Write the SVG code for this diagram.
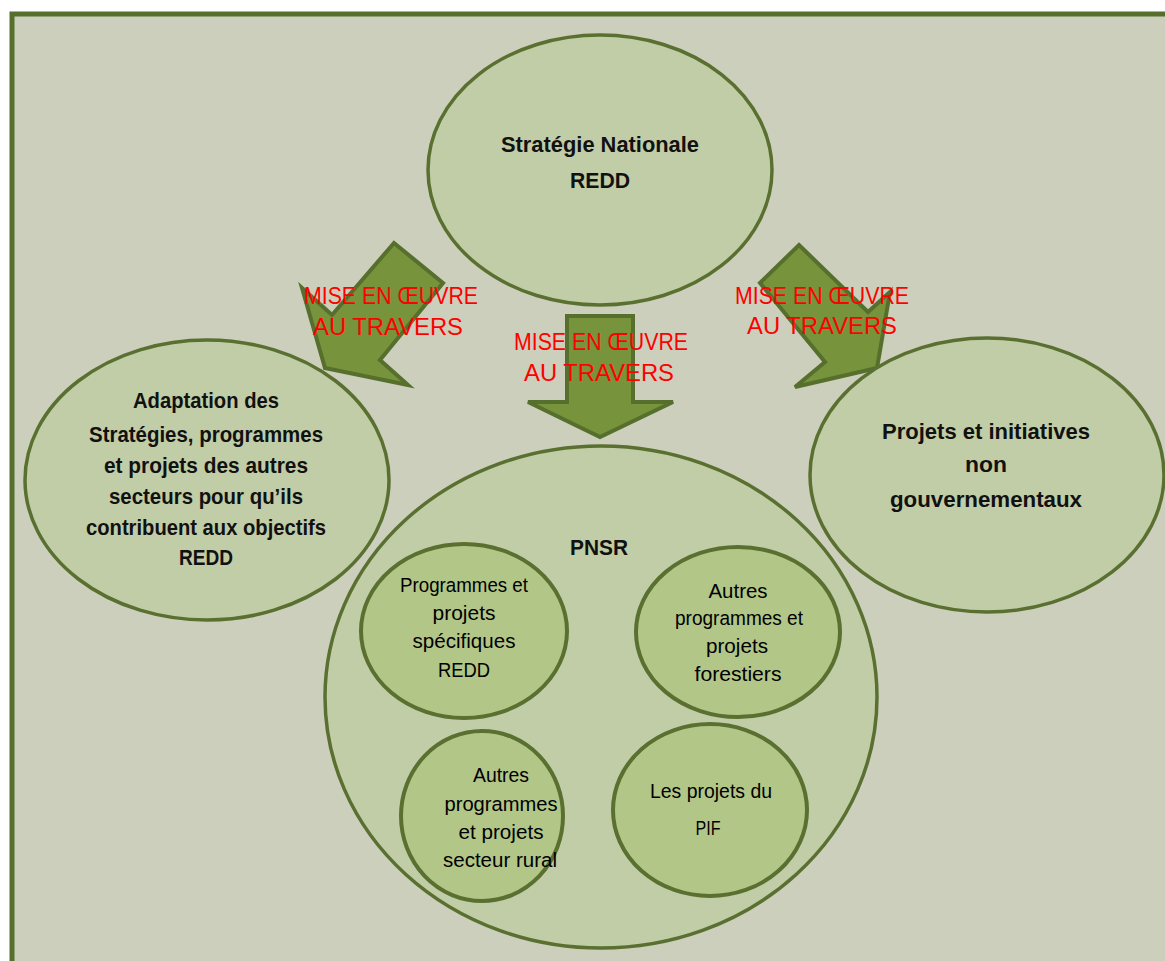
<svg xmlns="http://www.w3.org/2000/svg" width="1165" height="961" viewBox="0 0 1165 961">
<style>
.ell{fill:#C1CDA6;stroke:#5A7030;stroke-width:3.5}
.inn{fill:#B2C688;stroke:#5A7030;stroke-width:4}
.arr{fill:#77933C;stroke:#566F2C;stroke-width:4;stroke-linejoin:miter}
.t{font-family:"Liberation Sans",Arial,sans-serif;font-weight:bold;fill:#111;text-anchor:middle}
.b{font-size:22px}
.s{font-size:20.5px;font-weight:normal;fill:#000}
.r{font-family:"Liberation Sans",Arial,sans-serif;font-size:24px;fill:#FF0000;text-anchor:middle}
</style>
<rect x="0" y="0" width="1165" height="961" fill="#FFFFFF"/>
<rect x="12" y="14" width="1170" height="960" fill="#CBCFBC" stroke="#566F2C" stroke-width="5"/>
<g id="top">
<ellipse class="ell" cx="600" cy="170" rx="172" ry="135"/>
<text class="t b" x="600" y="152" textLength="198" lengthAdjust="spacingAndGlyphs">Stratégie Nationale</text>
<text class="t b" x="600" y="188" textLength="60" lengthAdjust="spacingAndGlyphs">REDD</text>
</g>
<g id="connectors">
<polygon class="arr" points="394,243 443,283 380,360 408,385 325,368 302,288 332,315"/>
<polygon class="arr" points="567,316 633,316 633,402 673,402 600,437 528,402 567,402"/>
<polygon class="arr" points="799,245 868,312 890,292 877,368 795,387 825,362 760,283"/>
<text class="r" x="391" y="304" textLength="174" lengthAdjust="spacingAndGlyphs">MISE EN ŒUVRE</text>
<text class="r" x="388" y="335" textLength="150" lengthAdjust="spacingAndGlyphs">AU TRAVERS</text>
<text class="r" x="601" y="350" textLength="174" lengthAdjust="spacingAndGlyphs">MISE EN ŒUVRE</text>
<text class="r" x="599" y="381" textLength="150" lengthAdjust="spacingAndGlyphs">AU TRAVERS</text>
<text class="r" x="822" y="304" textLength="174" lengthAdjust="spacingAndGlyphs">MISE EN ŒUVRE</text>
<text class="r" x="822" y="334" textLength="150" lengthAdjust="spacingAndGlyphs">AU TRAVERS</text>
</g>
<g id="left">
<ellipse class="ell" cx="207" cy="480" rx="182" ry="140"/>
<text class="t b" x="206" y="408" textLength="146" lengthAdjust="spacingAndGlyphs">Adaptation des</text>
<text class="t b" x="206" y="442" textLength="234" lengthAdjust="spacingAndGlyphs">Stratégies, programmes</text>
<text class="t b" x="206" y="473" textLength="204" lengthAdjust="spacingAndGlyphs">et projets des autres</text>
<text class="t b" x="206" y="504" textLength="194" lengthAdjust="spacingAndGlyphs">secteurs pour qu’ils</text>
<text class="t b" x="206" y="535" textLength="240" lengthAdjust="spacingAndGlyphs">contribuent aux objectifs</text>
<text class="t b" x="206" y="565" textLength="54" lengthAdjust="spacingAndGlyphs">REDD</text>
</g>
<g id="right">
<ellipse class="ell" cx="987" cy="475" rx="177" ry="137"/>
<text class="t b" x="986" y="439" textLength="208" lengthAdjust="spacingAndGlyphs">Projets et initiatives</text>
<text class="t b" x="986" y="472" textLength="42" lengthAdjust="spacingAndGlyphs">non</text>
<text class="t b" x="986" y="507" textLength="192" lengthAdjust="spacingAndGlyphs">gouvernementaux</text>
</g>
<g id="pnsr">
<ellipse class="ell" cx="601" cy="697" rx="276" ry="251"/>
<text class="t b" x="599" y="555" textLength="58" lengthAdjust="spacingAndGlyphs">PNSR</text>
</g>
<g id="c1">
<ellipse class="inn" cx="464" cy="631" rx="103" ry="87"/>
<text class="t s" x="464" y="592" textLength="128" lengthAdjust="spacingAndGlyphs">Programmes et</text>
<text class="t s" x="464" y="620" textLength="63" lengthAdjust="spacingAndGlyphs">projets</text>
<text class="t s" x="464" y="648" textLength="103" lengthAdjust="spacingAndGlyphs">spécifiques</text>
<text class="t s" x="464" y="677" textLength="52" lengthAdjust="spacingAndGlyphs">REDD</text>
</g>
<g id="c2">
<ellipse class="inn" cx="738" cy="632" rx="102" ry="85"/>
<text class="t s" x="738" y="598" textLength="59" lengthAdjust="spacingAndGlyphs">Autres</text>
<text class="t s" x="739" y="625" textLength="128" lengthAdjust="spacingAndGlyphs">programmes et</text>
<text class="t s" x="737" y="653" textLength="62" lengthAdjust="spacingAndGlyphs">projets</text>
<text class="t s" x="738" y="681" textLength="87" lengthAdjust="spacingAndGlyphs">forestiers</text>
</g>
<g id="c3">
<ellipse class="inn" cx="482" cy="816" rx="81" ry="85"/>
<text class="t s" x="501" y="782" textLength="56" lengthAdjust="spacingAndGlyphs">Autres</text>
<text class="t s" x="501" y="811" textLength="113" lengthAdjust="spacingAndGlyphs">programmes</text>
<text class="t s" x="501" y="839" textLength="85" lengthAdjust="spacingAndGlyphs">et projets</text>
<text class="t s" x="500" y="867" textLength="114" lengthAdjust="spacingAndGlyphs">secteur rural</text>
</g>
<g id="c4">
<ellipse class="inn" cx="710" cy="810" rx="97" ry="86"/>
<text class="t s" x="711" y="798" textLength="122" lengthAdjust="spacingAndGlyphs">Les projets du</text>
<text class="t s" x="708" y="835" textLength="25" lengthAdjust="spacingAndGlyphs">PIF</text>
</g>
</svg>
